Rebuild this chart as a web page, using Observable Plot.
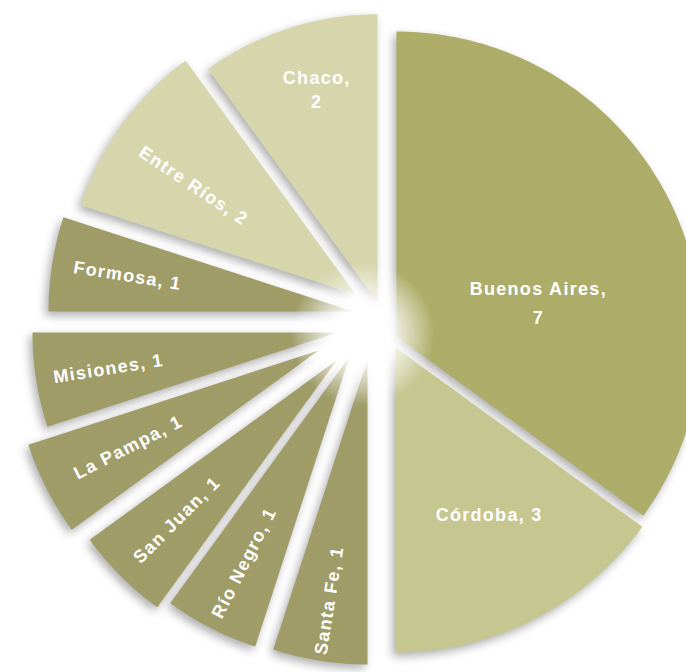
<!DOCTYPE html>
<html><head><meta charset="utf-8">
<script src="https://cdn.jsdelivr.net/npm/d3@7"></script>
<script src="https://cdn.jsdelivr.net/npm/@observablehq/plot@0.6"></script>
<style>html,body{margin:0;padding:0;background:#fff;} #chart svg{display:block;}</style>
</head><body><div id="chart"></div>
<script>
// ---- data ----
const provinces = ["Buenos Aires","Córdoba","Santa Fe","Río Negro","San Juan","La Pampa","Misiones","Formosa","Entre Ríos","Chaco"];
const counts = [7,3,1,1,1,1,1,1,2,2];

// ---- style / layout ----
const W = 686, H = 672;
const CX = 372, CY = 325, R = 305;            // pie centre & radius (px)
const sliceColors = ["#adad69","#c6c691","#9f9c68","#9f9c68","#9f9c68","#9f9c68","#9f9c68","#9f9c68","#d6d5ac","#d6d5ac"];
// explode offsets of each slice (px, screen dir) and radius factor
const explodeX = [24, 23, -5, -23, -36, -54, -35, -19, -17, 5];
const explodeY = [11, 22, 34, 31, 35, 25, 7, -14, -31, -23];
const radiusK  = [1, 1, 1, 1, 1, 1, 1, 1, 0.947, 0.945];
// label placement: fraction along slice angle, fraction of radius
const labelT = [0.6, 0.46, 0.5, 0.5, 0.5, 0.5, 0.5, 0.5, 0.44, 0.56];
const labelK = [0.48, 0.63, 0.8, 0.76, 0.74, 0.70, 0.76, 0.75, 0.64, 0.73];
const breakAfterComma = [true,false,false,false,false,false,false,false,false,true];
const lineHeights = [1.65,1,1,1,1,1,1,1,1,1.35];
const rotated = [false,false,true,true,true,true,true,true,true,false];

const arcs = d3.pie().sort(null).value(d => d)(counts);

const polys = [];
const labels = [];
arcs.forEach((a, i) => {
  const ox = explodeX[i] / R, oy = -explodeY[i] / R, rk = radiusK[i];
  const name = provinces[i];
  polys.push({name, x: ox, y: oy});
  const n = Math.max(8, Math.ceil((a.endAngle - a.startAngle) / (Math.PI / 180)));
  for (let k = 0; k <= n; k++) {
    const t = a.startAngle + (a.endAngle - a.startAngle) * k / n;
    polys.push({name, x: ox + rk * Math.sin(t), y: oy + rk * Math.cos(t)});
  }
  polys.push({name, x: ox, y: oy});
  const la = a.startAngle + (a.endAngle - a.startAngle) * labelT[i];
  const deg = la * 180 / Math.PI;
  labels.push({
    name, i,
    text: name + "," + (breakAfterComma[i] ? "\n" : " ") + counts[i],
    x: ox + labelK[i] * Math.sin(la),
    y: oy + labelK[i] * Math.cos(la),
    rotate: rotated[i] ? deg - 270 : 0,
    multi: breakAfterComma[i]
  });
});

const font = {fill: "white", fontSize: 18, fontWeight: "bold", fontFamily: "Liberation Sans, Arial, sans-serif"};

const svg = Plot.plot({
  width: W, height: H,
  marginTop: 0, marginRight: 0, marginBottom: 0, marginLeft: 0,
  x: {domain: [-CX / R, (W - CX) / R], axis: null},
  y: {domain: [-(H - CY) / R, CY / R], axis: null},
  color: {type: "ordinal", domain: provinces, range: sliceColors},
  marks: [
    Plot.line(polys, {x: "x", y: "y", z: "name", fill: "name", stroke: "none"}),
    Plot.dot([{x: -10 / R, y: -9 / R}], {x: "x", y: "y", r: 72, fill: "url(#glow)", stroke: "none"}),
    Plot.text(labels.filter(d => !d.multi), {x: "x", y: "y", text: "text", rotate: "rotate", ...font}),
    ...labels.filter(d => d.multi).map(d =>
      Plot.text([d], {x: "x", y: "y", text: "text", lineHeight: lineHeights[d.i], ...font}))
  ]
});

const s = d3.select(svg);
const defs = s.insert("defs", ":first-child");
const g = defs.append("radialGradient").attr("id", "glow");
g.append("stop").attr("offset", "0%").attr("stop-color", "#fff").attr("stop-opacity", 1);
g.append("stop").attr("offset", "35%").attr("stop-color", "#fff").attr("stop-opacity", 0.95);
g.append("stop").attr("offset", "70%").attr("stop-color", "#fff").attr("stop-opacity", 0.45);
g.append("stop").attr("offset", "100%").attr("stop-color", "#fff").attr("stop-opacity", 0);
s.select('g[aria-label="line"]').style("filter", "drop-shadow(-3px 4px 5px rgba(0,0,0,0.32))");
s.selectAll('g[aria-label="text"]').style("letter-spacing", "1.3px");

document.getElementById("chart").appendChild(svg);
</script>
</body></html>
